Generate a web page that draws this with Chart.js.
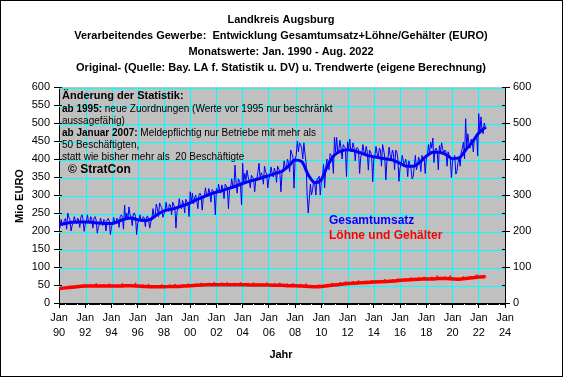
<!DOCTYPE html>
<html lang="de">
<head>
<meta charset="UTF-8"/>
<title>Landkreis Augsburg – Verarbeitendes Gewerbe</title>
<script src="https://cdn.jsdelivr.net/npm/chart.js"></script>
<style>
  html, body { margin:0; padding:0; background:#fff; }
  #wrap { width:563px; height:377px; }
</style>
</head>
<body>
<div id="wrap"><canvas id="chart" width="563" height="377"></canvas></div>
<script>
  // Monatswerte ab Jan. 1990 (Mio EURO)
  const startJahr = 1990;
  const umsatz = [
    200, 212, 232, 215, 220, 230, 235, 205, 250, 238, 232, 200,
    215, 222, 240, 228, 220, 236, 230, 210, 238, 245, 232, 199,
    218, 225, 245, 226, 222, 240, 232, 208, 236, 240, 230, 194,
    210, 218, 236, 222, 215, 232, 228, 200, 230, 235, 228, 190,
    212, 220, 238, 225, 222, 236, 232, 210, 240, 245, 238, 205,
    272, 230, 250, 232, 267, 245, 238, 215, 248, 250, 240, 190,
    222, 228, 245, 232, 225, 240, 236, 212, 238, 242, 230, 208,
    225, 235, 262, 240, 245, 275, 262, 240, 278, 270, 265, 238,
    248, 255, 280, 258, 255, 275, 270, 245, 280, 272, 265, 208,
    255, 262, 290, 270, 262, 285, 275, 250, 288, 282, 278, 240,
    309, 280, 305, 275, 292, 300, 285, 262, 300, 305, 298, 258,
    290, 298, 320, 300, 295, 318, 305, 280, 315, 312, 300, 245,
    318, 305, 330, 312, 305, 328, 315, 290, 330, 325, 320, 262,
    315, 318, 345, 325, 320, 383, 335, 305, 345, 340, 330, 273,
    388, 335, 360, 340, 369, 350, 340, 320, 355, 350, 345, 309,
    340, 345, 365, 388, 345, 362, 355, 330, 380, 365, 358, 320,
    345, 355, 378, 360, 350, 375, 365, 335, 380, 372, 365, 309,
    360, 368, 395, 375, 372, 400, 390, 365, 425, 415, 405, 319,
    400, 410, 450, 420, 445, 440, 430, 400, 445, 415, 390, 300,
    250, 290, 330, 300, 315, 340, 330, 300, 345, 345, 352, 300,
    335, 345, 385, 320, 370, 400, 395, 370, 415, 410, 405, 360,
    461, 420, 460, 420, 425, 452, 430, 400, 440, 435, 430, 351,
    448, 430, 455, 420, 425, 445, 430, 395, 430, 432, 425, 360,
    405, 415, 440, 420, 410, 435, 420, 369, 425, 420, 410, 337,
    400, 410, 435, 415, 405, 430, 425, 380, 440, 425, 405, 342,
    395, 405, 433, 410, 400, 425, 415, 370, 425, 420, 400, 338,
    375, 385, 410, 395, 380, 400, 390, 351, 395, 385, 375, 345,
    351, 380, 410, 370, 385, 405, 395, 365, 410, 400, 405, 360,
    400, 410, 440, 415, 447, 430, 458, 390, 425, 430, 420, 370,
    437, 420, 445, 428, 415, 425, 420, 380, 420, 410, 400, 349,
    395, 400, 410, 358, 365, 390, 405, 380, 420, 430, 447, 400,
    512, 430, 470, 440, 430, 455, 450, 420, 460, 455, 470, 409,
    526, 470, 517, 480, 470, 500, 490, 485
  ];
  const loehne = [
    38, 39, 40, 41, 40, 44, 42, 40, 41, 42, 48, 41,
    42, 43, 44, 44, 45, 50, 46, 44, 45, 46, 52, 45,
    45, 46, 47, 47, 46, 52, 48, 46, 47, 47, 55, 46,
    46, 46, 47, 47, 46, 51, 48, 46, 47, 47, 54, 46,
    46, 46, 47, 47, 47, 52, 48, 46, 47, 48, 55, 46,
    47, 47, 48, 48, 48, 53, 49, 47, 48, 48, 56, 47,
    46, 46, 47, 47, 46, 51, 47, 45, 46, 46, 53, 45,
    44, 44, 45, 45, 45, 50, 46, 44, 45, 45, 52, 44,
    44, 44, 45, 45, 45, 51, 46, 44, 46, 46, 53, 45,
    45, 45, 46, 46, 46, 52, 47, 45, 47, 47, 54, 46,
    47, 47, 48, 48, 48, 54, 49, 47, 49, 49, 56, 48,
    49, 49, 50, 50, 50, 56, 51, 49, 51, 51, 58, 50,
    50, 50, 51, 51, 51, 57, 52, 50, 51, 51, 58, 50,
    50, 50, 51, 51, 51, 56, 52, 50, 51, 51, 58, 50,
    50, 50, 51, 51, 50, 56, 51, 49, 50, 50, 57, 49,
    49, 49, 50, 50, 50, 55, 51, 49, 50, 50, 57, 49,
    49, 49, 50, 50, 49, 55, 50, 48, 49, 49, 56, 48,
    48, 48, 49, 49, 48, 54, 49, 47, 48, 48, 55, 47,
    47, 47, 48, 48, 48, 53, 48, 46, 47, 47, 54, 46,
    45, 44, 45, 44, 44, 49, 45, 43, 44, 45, 51, 45,
    45, 46, 47, 47, 47, 53, 48, 47, 49, 49, 56, 49,
    49, 50, 51, 51, 52, 58, 53, 51, 53, 53, 60, 52,
    53, 53, 54, 54, 55, 61, 56, 54, 56, 56, 63, 55,
    55, 55, 56, 56, 56, 62, 57, 55, 57, 57, 64, 56,
    57, 57, 58, 58, 58, 64, 59, 57, 59, 59, 66, 58,
    59, 59, 60, 60, 60, 66, 61, 59, 61, 61, 68, 60,
    62, 62, 63, 63, 63, 69, 64, 62, 64, 64, 71, 63,
    64, 64, 65, 65, 65, 71, 66, 64, 66, 66, 73, 65,
    66, 66, 67, 67, 67, 73, 68, 66, 68, 68, 76, 67,
    67, 67, 68, 68, 68, 74, 69, 67, 69, 69, 77, 68,
    67, 67, 67, 64, 64, 70, 66, 64, 66, 67, 74, 67,
    67, 67, 68, 68, 69, 75, 70, 68, 71, 71, 79, 71,
    71, 72, 73, 73, 73, 78, 74, 72
  ];
  // Trendwerte, halbjaehrlich ab Jan. 1990
  const umsatzTrend = [
    218, 221, 224, 225, 225, 224, 222, 221, 221, 226, 233, 236, 231, 229, 233, 246,
    256, 260, 265, 271, 278, 287, 295, 302, 308, 313, 319, 325, 332, 338, 343, 348,
    354, 360, 366, 380, 397, 393, 356, 334, 343, 383, 411, 422, 426, 423, 417, 410,
    406, 403, 400, 396, 388, 380, 380, 391, 408, 419, 419, 412, 401, 403, 425, 447,
    472, 488
  ];
  const loehneTrend = [
    40, 42, 44, 46, 47, 47, 47, 47, 47, 47, 48, 48, 47, 46, 45, 45,
    45, 46, 46, 47, 48, 49, 50, 51, 51, 51, 51, 51, 51, 50, 50, 50,
    50, 49, 49, 48, 48, 47, 46, 45, 46, 48, 50, 52, 54, 55, 56, 57,
    58, 59, 60, 61, 63, 64, 65, 66, 67, 67, 68, 68, 67, 66, 68, 70,
    72, 73
  ];
  const jahrTicks = ['90','92','94','96','98','00','02','04','06','08','10','12','14','16','18','20','22','24'];

  const FONT = '"Liberation Sans", Arial, sans-serif';
  const monatlich = arr => arr.map((v, i) => ({ x: startJahr + i / 12, y: v }));
  const halbjahr = arr => arr.map((v, i) => ({ x: startJahr + i / 2, y: v }));
  // Gitterlinien auf gerade Pixel legen (sonst verschwinden sie im Foto)
  const gerade = p => 2 * Math.round(p / 2) + 0.5;

  function zeile(g, x, y, teile, size) {
    teile.forEach(([txt, fett]) => {
      g.font = (fett ? 'bold ' : '') + size + 'px ' + FONT;
      g.fillText(txt, x, y);
      x += g.measureText(txt).width;
    });
  }

  const deko = {
    id: 'deko',
    beforeDraw(c) {
      const g = c.ctx, a = c.chartArea;
      g.save();
      g.fillStyle = '#fff'; g.fillRect(0, 0, c.width, c.height);
      g.fillStyle = '#c0c0c0'; g.fillRect(a.left, a.top, a.right - a.left, a.bottom - a.top);
      g.restore();
    },
    beforeDatasetsDraw(c) {
      const g = c.ctx, a = c.chartArea, xs = c.scales.x, ys = c.scales.y;
      g.save();
      g.strokeStyle = '#00ffff'; g.lineWidth = 1;
      g.beginPath();
      for (let v = 50; v <= 600; v += 50) {
        const py = gerade(ys.getPixelForValue(v));
        g.moveTo(a.left, py); g.lineTo(a.right, py);
      }
      for (let j = 1992; j < 2024; j += 2) {
        const px = gerade(xs.getPixelForValue(j));
        g.moveTo(px, a.top); g.lineTo(px, a.bottom);
      }
      g.stroke();
      g.restore();
    },
    afterDraw(c) {
      const g = c.ctx, a = c.chartArea, xs = c.scales.x, ys = c.scales.y;
      g.save();
      // kleine Monats-Striche
      g.strokeStyle = '#000'; g.lineWidth = 1;
      g.beginPath();
      for (let m = 0; m <= 34 * 12; m++) {
        const px = Math.round(xs.getPixelForValue(startJahr + m / 12)) + 0.5;
        g.moveTo(px, a.bottom); g.lineTo(px, a.bottom + 2);
      }
      for (let v = 0; v <= 600; v += 50) {
        const py = Math.round(ys.getPixelForValue(v)) + 0.5;
        g.moveTo(a.left, py); g.lineTo(a.left + 3, py);
        g.moveTo(a.right - 3, py); g.lineTo(a.right, py);
      }
      g.stroke();

      // Titel
      g.fillStyle = '#000'; g.textAlign = 'center'; g.textBaseline = 'middle';
      g.font = 'bold 11px ' + FONT;
      ['Landkreis Augsburg',
       'Verarbeitendes Gewerbe:  Entwicklung Gesamtumsatz+Löhne/Gehälter (EURO)',
       'Monatswerte: Jan. 1990 - Aug. 2022',
       'Original- (Quelle: Bay. LA f. Statistik u. DV) u. Trendwerte (eigene Berechnung)'
      ].forEach((t, i) => g.fillText(t, 281, 20 + i * 16));

      // Achsentitel
      g.fillText('Jahr', 281, 355);
      g.save(); g.translate(20, 196); g.rotate(-Math.PI / 2);
      g.fillText('Mio EURO', 0, 0); g.restore();

      // Hinweis zur Statistik
      g.textAlign = 'left';
      zeile(g, 62, 96, [['Änderung der Statistik:', true]], 11);
      zeile(g, 62, 109, [['ab 1995:', true], [' neue Zuordnungen (Werte vor 1995 nur beschränkt', false]], 10);
      zeile(g, 62, 121, [['aussagefähig)', false]], 10);
      zeile(g, 62, 133, [['ab Januar 2007:', true], [' Meldepflichtig nur Betriebe mit mehr als', false]], 10);
      zeile(g, 62, 145, [['50 Beschäftigten,', false]], 10);
      zeile(g, 62, 157, [['statt wie bisher mehr als  20 Beschäftigte', false]], 10);
      zeile(g, 68, 170, [['© StratCon', true]], 12);

      // Legende
      g.font = 'bold 12px ' + FONT;
      g.fillStyle = '#0000ff'; g.fillText('Gesamtumsatz', 329, 221);
      g.fillStyle = '#ff0000'; g.fillText('Löhne und Gehälter', 329, 236);

      // Rahmen
      g.strokeStyle = '#000'; g.lineWidth = 1;
      g.strokeRect(0.5, 0.5, c.width - 1, c.height - 1);
      g.restore();
    }
  };

  new Chart(document.getElementById('chart'), {
    type: 'line',
    data: {
      datasets: [
        { data: halbjahr(umsatzTrend), borderColor: '#0000ff', borderWidth: 3, cubicInterpolationMode: 'monotone' },
        { data: halbjahr(loehneTrend), borderColor: '#ff0000', borderWidth: 3.5, cubicInterpolationMode: 'monotone' },
        { data: monatlich(umsatz), borderColor: '#0000ff', borderWidth: 1 },
        { data: monatlich(loehne), borderColor: '#ff0000', borderWidth: 1 }
      ]
    },
    options: {
      responsive: false,
      animation: false,
      layout: { padding: { top: 87, left: 0, right: 0, bottom: 0 } },
      elements: { point: { radius: 0 }, line: { tension: 0 } },
      plugins: { legend: { display: false }, tooltip: { enabled: false }, title: { display: false } },
      scales: {
        x: {
          type: 'linear', min: 1990, max: 2024,
          afterFit: s => { s.height = 74; },
          grid: { drawOnChartArea: false, tickColor: '#000', tickLength: 5 },
          border: { color: '#000' },
          ticks: {
            stepSize: 2, color: '#000', padding: 3, maxRotation: 0, autoSkip: false,
            font: { family: FONT, size: 11, lineHeight: 1.35 },
            callback: v => ['Jan', jahrTicks[(v - 1990) / 2]]
          }
        },
        y: {
          min: 0, max: 600, position: 'left',
          afterFit: s => { s.width = 59; },
          grid: { drawOnChartArea: false, tickColor: '#000', tickLength: 5 },
          border: { color: '#000' },
          ticks: { stepSize: 50, color: '#000', padding: 4, font: { family: FONT, size: 11 } }
        },
        y2: {
          min: 0, max: 600, position: 'right',
          afterFit: s => { s.width = 58; },
          grid: { drawOnChartArea: false, tickColor: '#000', tickLength: 5 },
          border: { color: '#000' },
          ticks: { stepSize: 100, color: '#000', padding: 3, font: { family: FONT, size: 11 } }
        }
      }
    },
    plugins: [deko]
  });
</script>
</body>
</html>
